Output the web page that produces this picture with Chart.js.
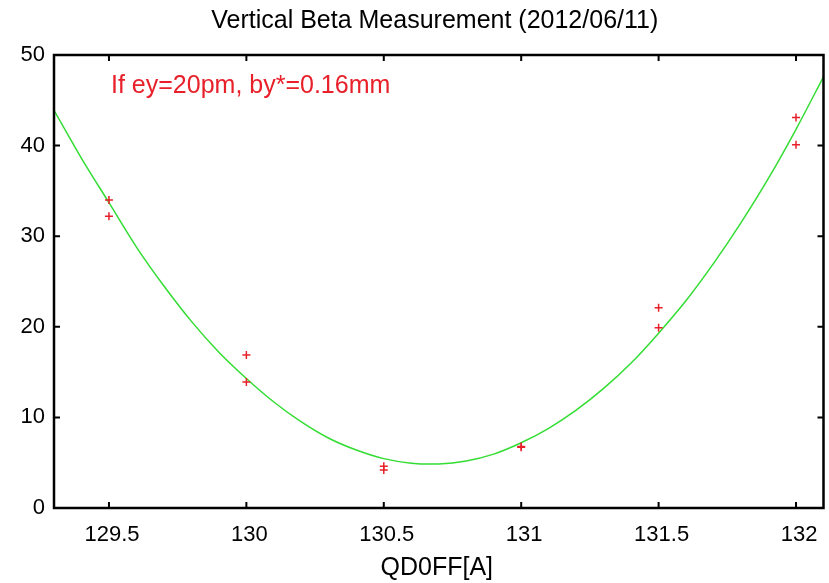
<!DOCTYPE html>
<html>
<head>
<meta charset="utf-8">
<script src="https://cdn.jsdelivr.net/npm/chart.js@4"></script>
<style>
  html, body { margin: 0; padding: 0; background: #ffffff; }
  #wrap { width: 829px; height: 583px; }
</style>
</head>
<body>
<div id="wrap"><canvas id="c" width="829" height="583"></canvas></div>
<script>
// ---- data ----
const titleText = 'Vertical Beta Measurement (2012/06/11)';
const xTitle = 'QD0FF[A]';
const noteText = 'If ey=20pm, by*=0.16mm';

const xTicks = [129.5, 130, 130.5, 131, 131.5, 132];
const yTicks = [0, 10, 20, 30, 40, 50];

// measured points (QD0FF current, beta)
const measX = [129.5, 129.5, 130, 130, 130.5, 130.5, 131, 131, 131.5, 131.5, 132, 132];
const measY = [34.0, 32.2, 16.9, 13.9, 4.6, 4.2, 6.8, 6.7, 22.1, 19.9, 43.1, 40.1];

// fitted curve
const fitX = [129.3, 129.4, 129.5, 129.6, 129.7, 129.8, 129.9, 130.0, 130.1, 130.2,
              130.3, 130.4, 130.5, 130.6, 130.7, 130.8, 130.9, 131.0, 131.1, 131.2,
              131.3, 131.4, 131.5, 131.6, 131.7, 131.8, 131.9, 132.0, 132.1];
const fitY = [43.9, 38.6, 33.7, 28.8, 24.5, 20.6, 17.2, 14.3, 11.7, 9.5,
              7.7, 6.4, 5.45, 4.95, 4.87, 5.2, 5.95, 7.2, 8.8, 10.8,
              13.2, 16.0, 19.3, 22.9, 27.0, 31.5, 36.4, 41.8, 47.6];

const toPts = (xs, ys) => xs.map((x, i) => ({ x: x, y: ys[i] }));

const FONT = "'Liberation Sans', Arial, Helvetica, sans-serif";

const framePlugin = {
  id: 'frame',
  afterDatasetsDraw(chart) {
    const { ctx, chartArea: a, scales } = chart;
    ctx.save();
    ctx.strokeStyle = '#000';
    ctx.lineWidth = 2.5;
    ctx.strokeRect(a.left, a.top, a.right - a.left, a.bottom - a.top);
    ctx.lineWidth = 2;
    const tl = 6;
    ctx.beginPath();
    xTicks.forEach(v => {
      const px = scales.x.getPixelForValue(v);
      ctx.moveTo(px, a.bottom); ctx.lineTo(px, a.bottom - tl);
      ctx.moveTo(px, a.top); ctx.lineTo(px, a.top + tl);
    });
    yTicks.forEach(v => {
      const py = scales.y.getPixelForValue(v);
      ctx.moveTo(a.left, py); ctx.lineTo(a.left + tl, py);
      ctx.moveTo(a.right, py); ctx.lineTo(a.right - tl, py);
    });
    ctx.stroke();
    const cx = (a.left + a.right) / 2 - 4;
    ctx.textBaseline = 'alphabetic';
    // title
    ctx.fillStyle = '#000';
    ctx.font = "25px " + FONT;
    ctx.textAlign = 'center';
    ctx.fillText(titleText, cx, 28);
    // x axis title
    ctx.fillText(xTitle, cx + 2, 575);
    // annotation
    ctx.fillStyle = '#e8202a';
    ctx.textAlign = 'left';
    ctx.fillText(noteText, a.left + 57, a.top + 38);
    ctx.restore();
  }
};

new Chart(document.getElementById('c'), {
  type: 'scatter',
  data: {
    datasets: [
      {
        label: 'fit',
        data: toPts(fitX, fitY),
        showLine: true,
        borderColor: '#33dd33',
        borderWidth: 1.5,
        pointRadius: 0,
        tension: 0.3,
        fill: false,
        order: 2
      },
      {
        label: 'measured',
        data: toPts(measX, measY),
        showLine: false,
        pointStyle: 'cross',
        pointRadius: 4,
        borderColor: '#e8202a',
        borderWidth: 1.5,
        order: 1
      }
    ]
  },
  options: {
    responsive: false,
    animation: false,
    devicePixelRatio: 1,
    layout: { padding: { left: 0, right: 4, top: 55, bottom: 0 } },
    plugins: {
      legend: { display: false },
      tooltip: { enabled: false },
      title: { display: false }
    },
    scales: {
      x: {
        type: 'linear',
        min: 129.3,
        max: 132.1,
        afterBuildTicks: s => { s.ticks = xTicks.map(v => ({ value: v })); },
        afterFit: s => { s.height = 75; },
        grid: { display: false, drawTicks: false },
        border: { display: false },
        ticks: {
          color: '#000',
          padding: 14,
          labelOffset: 3,
          font: { family: FONT, size: 22 },
          callback: v => String(v)
        }
      },
      y: {
        type: 'linear',
        min: 0,
        max: 50,
        afterBuildTicks: s => { s.ticks = yTicks.map(v => ({ value: v })); },
        afterFit: s => { s.width = 54; },
        grid: { display: false, drawTicks: false },
        border: { display: false },
        ticks: {
          color: '#000',
          padding: 9,
          font: { family: FONT, size: 22 },
          callback: v => String(v)
        }
      }
    }
  },
  plugins: [framePlugin]
});
</script>
</body>
</html>
